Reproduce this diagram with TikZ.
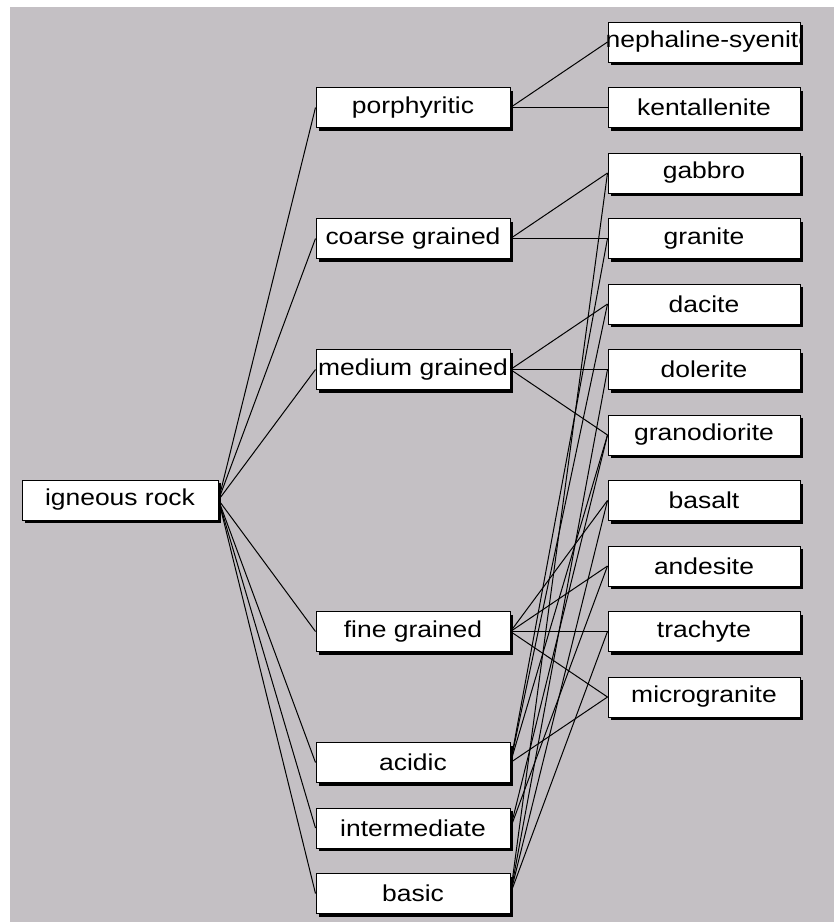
\documentclass[tikz,border=0pt]{standalone}
\usepackage{fontspec}
\setmainfont{Liberation Sans}[FakeStretch=1.15]
\usetikzlibrary{shadows}

\definecolor{panelgray}{RGB}{196,192,196}

\pgfdeclarelayer{panel}
\pgfdeclarelayer{links}
\pgfsetlayers{panel,links,main}

\tikzset{
  rockbox/.style={draw=black, fill=white, line width=1pt, rectangle,
    minimum width=194pt, minimum height=40pt, inner sep=0pt,
    font=\fontsize{23}{27}\selectfont,
    drop shadow={shadow xshift=3pt, shadow yshift=-3pt, fill=black, opacity=1}},
  link/.style={line width=1pt, black}
}

\begin{document}
\begin{tikzpicture}[x=1pt, y=-1pt]
  \useasboundingbox (0,0) rectangle (834,922);
  \begin{pgfonlayer}{panel}
    \fill [panelgray] (10,7) rectangle (834,922);
  \end{pgfonlayer}

  % root
  \node [rockbox, minimum width=196pt] (igneous) at (120,500) {igneous rock};

  % grain and composition classes
  \foreach \n/\t/\r in {porph/porphyritic/1, coarse/coarse grained/3,
      medium/medium grained/5, fine/fine grained/9, acidic/acidic/11,
      interm/intermediate/12, basic/basic/13}
    \node [rockbox] (\n) at (413,{42+65.5*\r}) {\t};

  % rocks
  \foreach \n/\t/\r in {kent/kentallenite/1, gabbro/gabbro/2,
      granite/granite/3, dacite/dacite/4, dolerite/dolerite/5,
      granodio/granodiorite/6, basalt/basalt/7, andesite/andesite/8,
      trachyte/trachyte/9, micro/microgranite/10}
    \node [rockbox, minimum width=192pt] (\n) at (704,{42+65.5*\r}) {\t};

  % this one is too long for its box and gets cut off
  \node [rockbox, minimum width=192pt] (nephaline) at (704,42) {};
  \begin{scope}
    \clip (nephaline.south west) rectangle (nephaline.north east);
    \node [anchor=west, inner sep=0pt, font=\fontsize{23}{27}\selectfont]
      at ([xshift=-2pt]nephaline.west) {nephaline-syenite};
  \end{scope}

  \begin{pgfonlayer}{links}
    \foreach \b in {porph, coarse, medium, fine, acidic, interm, basic}
      \draw [link] (igneous.east) -- (\b.west);
    \foreach \a/\b in {porph/nephaline, porph/kent,
        coarse/gabbro, coarse/granite,
        medium/dacite, medium/dolerite, medium/granodio,
        fine/basalt, fine/andesite, fine/trachyte, fine/micro}
      \draw [link] (\a.east) -- (\b.west);
    % composition
    \foreach \a/\b in {acidic/granite, acidic/dacite, acidic/granodio,
        acidic/micro, interm/andesite, interm/granodio,
        basic/gabbro, basic/dolerite, basic/basalt, basic/trachyte}
      \draw [link] (\a.east) -- (\b.west);
  \end{pgfonlayer}
\end{tikzpicture}
\end{document}
